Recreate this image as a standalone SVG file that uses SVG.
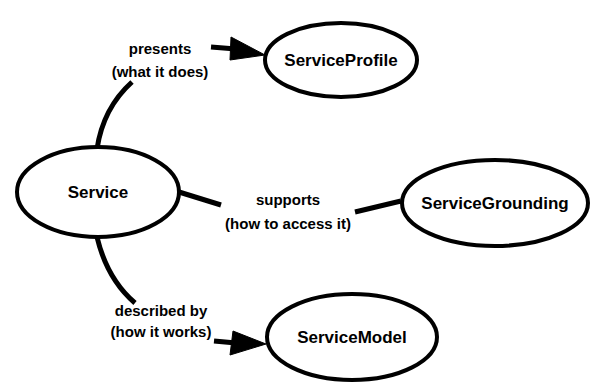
<svg xmlns="http://www.w3.org/2000/svg" width="592" height="388" viewBox="0 0 592 388">
  <style>
    .node ellipse { fill: #ffffff; stroke: #000000; stroke-width: 4; }
    .node text { font-family: "Liberation Sans", Arial, sans-serif; font-size: 17px; font-weight: bold; fill: #000000; text-anchor: middle; }
    .edge path { fill: none; stroke: #000000; stroke-width: 5; }
    .edge polygon { fill: #000000; stroke: #000000; stroke-width: 1; }
    .edge text { font-family: "Liberation Sans", Arial, sans-serif; font-size: 15px; font-weight: bold; fill: #000000; text-anchor: middle; }
  </style>
  <rect width="592" height="388" fill="#ffffff"/>

  <g id="connectors">
    <!-- Service -> ServiceProfile -->
    <g class="edge" id="edge-presents">
      <path d="M 97,149 C 101,122 112,100 132,82"/>
      <path d="M 211,47 L 236,49"/>
      <polygon points="231,37 265,55 230,60"/>
      <text x="160" y="54">presents</text>
      <text x="160" y="77">(what it does)</text>
    </g>
    <!-- Service -> ServiceGrounding -->
    <g class="edge" id="edge-supports">
      <path d="M 179,192 L 221,205"/>
      <path d="M 355,212 L 401,201"/>
      <text x="288" y="205">supports</text>
      <text x="288" y="229">(how to access it)</text>
    </g>
    <!-- Service -> ServiceModel -->
    <g class="edge" id="edge-describedby">
      <path d="M 97,237 C 103,262 114,285 135,303"/>
      <path d="M 214,341 L 236,343"/>
      <polygon points="233,331 266,344 230,355"/>
      <text x="161" y="316">described by</text>
      <text x="161" y="337">(how it works)</text>
    </g>
  </g>

  <g class="node" id="node-service">
    <ellipse cx="98" cy="192" rx="81" ry="45"/>
    <text x="98" y="198">Service</text>
  </g>
  <g class="node" id="node-serviceprofile">
    <ellipse cx="341" cy="60" rx="76" ry="37"/>
    <text x="341" y="66">ServiceProfile</text>
  </g>
  <g class="node" id="node-servicegrounding">
    <ellipse cx="495" cy="203" rx="93" ry="43"/>
    <text x="495" y="209">ServiceGrounding</text>
  </g>
  <g class="node" id="node-servicemodel">
    <ellipse cx="352" cy="337" rx="85" ry="43"/>
    <text x="352" y="343">ServiceModel</text>
  </g>
</svg>
